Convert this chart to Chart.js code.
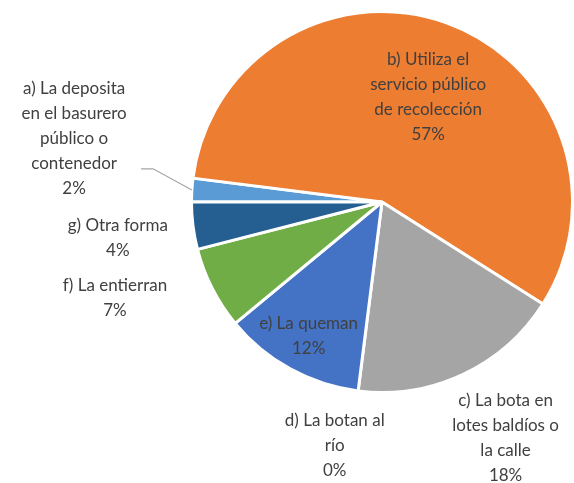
<!DOCTYPE html>
<html>
<head>
<meta charset="utf-8">
<script src="https://cdn.jsdelivr.net/npm/chart.js@4/dist/chart.umd.min.js"></script>
<style>
  html, body { margin: 0; padding: 0; background: #fff; }
  #wrap { width: 574px; height: 483px; position: relative; }
</style>
</head>
<body>
<div id="wrap"><canvas id="pieChart"></canvas></div>
<script>
// Data
const categories = [
    ['a) La deposita', 'en el basurero', 'público o', 'contenedor'],
    ['b) Utiliza el', 'servicio público', 'de recolección'],
    ['c) La bota en', 'lotes baldíos o', 'la calle'],
    ['d) La botan al', 'río'],
    ['e) La queman'],
    ['f) La entierran'],
    ['g) Otra forma']
];
const percents = [2, 57, 18, 0, 12, 7, 4];
const sliceColors = ['#5B9BD5', '#ED7D31', '#A5A5A5', '#FFC000', '#4472C4', '#70AD47', '#255E91'];

// Label placement: distance from centre (x radius) and turn from slice middle (degrees)
const labelDist = [1.65, 0.6, 1.4, 1.3, 0.8, 1.49, 1.4];
const labelTurn = [8, 4, -2.4, 3.8, 0, 7.2, -0.6];

const sliceLabels = {
    id: 'sliceLabels',
    afterDatasetsDraw(chart) {
        const ctx = chart.ctx;
        const meta = chart.getDatasetMeta(0);
        ctx.save();
        ctx.font = '17px Lato, "Open Sans", sans-serif';
        ctx.fillStyle = '#404040';
        ctx.textAlign = 'center';
        ctx.textBaseline = 'middle';
        meta.data.forEach((arc, i) => {
            const p = arc.getProps(['x', 'y', 'startAngle', 'endAngle', 'outerRadius'], true);
            const mid = (p.startAngle + p.endAngle) / 2;
            const ang = mid + labelTurn[i] * Math.PI / 180;
            const r = p.outerRadius * labelDist[i];
            const lx = p.x + Math.cos(ang) * r;
            const ly = p.y + Math.sin(ang) * r;
            const lines = categories[i].concat([percents[i] + '%']);
            const lh = 25;
            const top = ly - (lines.length - 1) * lh / 2;
            lines.forEach((t, k) => ctx.fillText(t, lx, top + k * lh));

            // leader line for the small outside slice
            if (i === 0) {
                const sx = lx + 67, sy = ly + 30;
                const ex = p.x + Math.cos(mid) * p.outerRadius;
                const ey = p.y + Math.sin(mid) * p.outerRadius;
                ctx.strokeStyle = '#A6A6A6';
                ctx.lineWidth = 1.3;
                ctx.beginPath();
                ctx.moveTo(sx, sy);
                ctx.lineTo(sx + 12, sy);
                ctx.lineTo(ex, ey);
                ctx.stroke();
            }
        });
        ctx.restore();
    }
};

new Chart(document.getElementById('pieChart').getContext('2d'), {
    type: 'pie',
    data: {
        labels: categories.map(c => c.join(' ')),
        datasets: [{
            data: percents,
            backgroundColor: sliceColors,
            borderColor: '#ffffff',
            borderWidth: 3
        }]
    },
    options: {
        responsive: true,
        maintainAspectRatio: false,
        animation: false,
        rotation: 270,
        layout: { padding: { left: 190, right: 0, top: 10, bottom: 89 } },
        plugins: {
            legend: { display: false },
            tooltip: { enabled: false }
        }
    },
    plugins: [sliceLabels]
});
</script>
</body>
</html>
